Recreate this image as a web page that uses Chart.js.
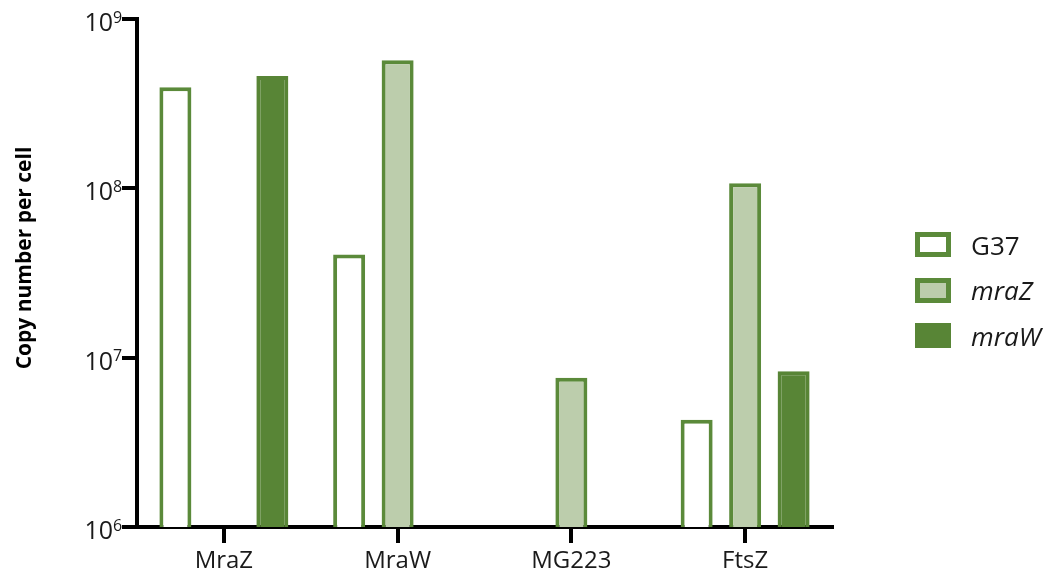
<!DOCTYPE html>
<html>
<head>
<meta charset="utf-8">
<script src="https://cdn.jsdelivr.net/npm/chart.js@4.4.1/dist/chart.umd.min.js"></script>
<style>
  body { margin: 0; background: #fff; }
  #wrap { position: relative; width: 1058px; height: 574px; }
  .legend { position: absolute; left: 915px; top: 222px; font-family: "Open Sans", sans-serif; font-size: 26px; color: #1a1a1a; }
  .item { display: flex; align-items: center; height: 45.5px; }
  .box { width: 36px; height: 25px; box-sizing: border-box; margin-right: 20px; }
  .it { font-style: italic; }
</style>
</head>
<body>
<div id="wrap">
  <canvas id="chart" width="1058" height="574"></canvas>
  <div class="legend" id="legend"></div>
</div>
<script>
// Données
const categories = ['MraZ', 'MraW', 'MG223', 'FtsZ'];
const g37Values  = [3.95e8, 4.06e7, null, 4.3e6];
const mraZValues = [null, 5.7e8, 7.6e6, 1.07e8];
const mraWValues = [4.6e8, null, null, 8.3e6];
const yTickValues = [1e6, 1e7, 1e8, 1e9];

const GREEN = '#5b8a3a';
const GREEN_DARK = '#588536';
const GREEN_LIGHT = '#bccdac';
const FONT = '"Open Sans", sans-serif';
const TEXT = '#1a1a1a';

const series = [
  { label: 'G37',  data: g37Values,  fill: '#ffffff',   border: GREEN, italic: false },
  { label: 'mraZ', data: mraZValues, fill: GREEN_LIGHT, border: GREEN, italic: true },
  { label: 'mraW', data: mraWValues, fill: GREEN_DARK,  border: GREEN_DARK, italic: true }
];

// Libellés 10^n avec exposant et titre de l'axe Y
const axisText = {
  id: 'axisText',
  afterDraw(chart) {
    const ctx = chart.ctx;
    const y = chart.scales.y;
    const right = 113;
    ctx.save();
    ctx.fillStyle = TEXT;
    yTickValues.forEach(v => {
      const py = y.getPixelForValue(v);
      ctx.font = '25px ' + FONT;
      ctx.textAlign = 'right';
      ctx.textBaseline = 'middle';
      ctx.fillText('10', right, py + 5);
      ctx.font = '16px ' + FONT;
      ctx.textAlign = 'left';
      ctx.fillText(String(Math.round(Math.log10(v))), right, py - 1);
    });
    ctx.translate(25, (chart.chartArea.top + chart.chartArea.bottom) / 2 - 15);
    ctx.rotate(-Math.PI / 2);
    ctx.font = 'bold 21px ' + FONT;
    ctx.fillStyle = '#000';
    ctx.textAlign = 'center';
    ctx.textBaseline = 'middle';
    ctx.fillText('Copy number per cell', 0, 0);
    ctx.restore();
  }
};

new Chart(document.getElementById('chart'), {
  type: 'bar',
  data: {
    labels: categories,
    datasets: series.map(s => ({
      label: s.label,
      data: s.data,
      backgroundColor: s.fill,
      borderColor: s.border,
      borderWidth: 4,
      categoryPercentage: 0.837,
      barPercentage: 0.66
    }))
  },
  options: {
    responsive: false,
    animation: false,
    devicePixelRatio: 1,
    layout: { padding: { top: 19, right: 226, left: 0, bottom: 0 } },
    plugins: { legend: { display: false }, tooltip: { enabled: false } },
    scales: {
      x: {
        grid: { display: true, drawOnChartArea: false, offset: false, tickLength: 16, lineWidth: 4, color: '#000' },
        border: { display: true, color: '#000', width: 4 },
        ticks: { font: { family: FONT, size: 24 }, color: TEXT, padding: 4 },
        afterFit(scale) { scale.height = 47; }
      },
      y: {
        type: 'logarithmic',
        min: 1e6,
        max: 1e9,
        afterBuildTicks(scale) { scale.ticks = yTickValues.map(v => ({ value: v })); },
        ticks: { display: false },
        grid: { display: true, drawOnChartArea: false, tickLength: 15, lineWidth: 4, color: '#000' },
        border: { display: true, color: '#000', width: 4 },
        afterFit(scale) { scale.width = 137; }
      }
    }
  },
  plugins: [axisText]
});

// Légende HTML
const legend = document.getElementById('legend');
series.forEach(s => {
  const item = document.createElement('div');
  item.className = 'item';
  const box = document.createElement('div');
  box.className = 'box';
  box.style.background = s.fill;
  box.style.border = '5px solid ' + s.border;
  const txt = document.createElement('span');
  txt.textContent = s.label;
  if (s.italic) txt.className = 'it';
  item.appendChild(box);
  item.appendChild(txt);
  legend.appendChild(item);
});
</script>
</body>
</html>
